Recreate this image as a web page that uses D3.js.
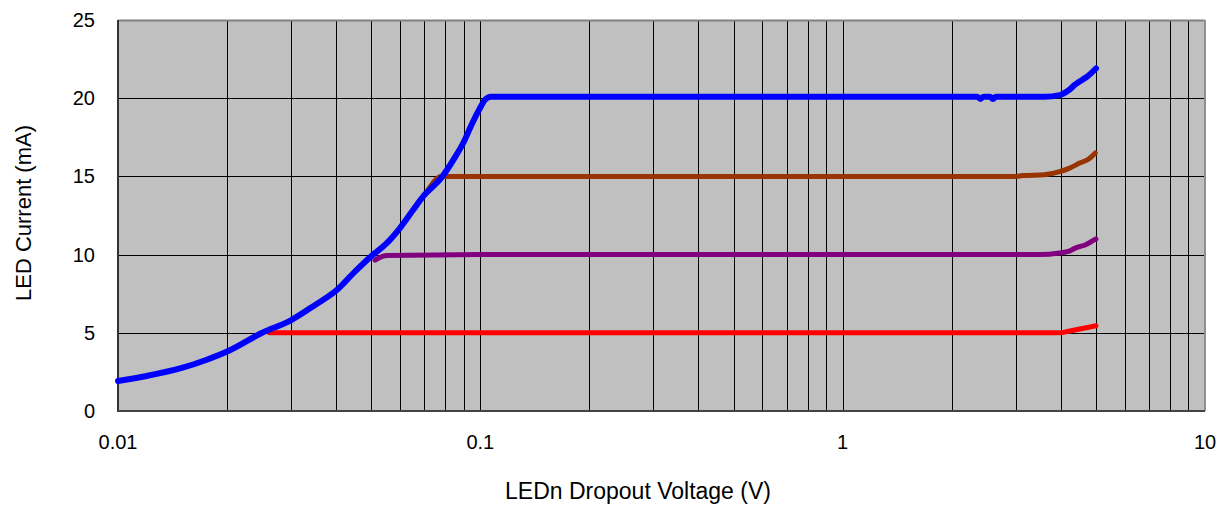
<!DOCTYPE html>
<html>
<head>
<meta charset="utf-8">
<script src="https://cdn.jsdelivr.net/npm/d3@7"></script>
<style>
  body { margin: 0; background: #fff; }
  svg text { font-family: "Liberation Sans", Arial, sans-serif; fill: #000; }
</style>
</head>
<body>
<svg id="chart"></svg>
<script>
// ---------------- data ----------------
let xTicks = [0.01, 0.1, 1, 10]
let yTicks = [0, 5, 10, 15, 20, 25]

let blueV = [0.01, 0.012, 0.015, 0.0175, 0.02, 0.025, 0.03, 0.035, 0.04, 0.045, 0.05, 0.055, 0.06, 0.065, 0.07, 0.078, 0.085, 0.09, 0.095, 0.1, 0.103, 0.107, 0.2, 0.5, 1, 2, 2.35, 2.4, 2.45, 2.55, 2.6, 2.65, 3.0, 3.6, 3.97, 4.2, 4.37, 4.6, 4.74, 5.0]
let blueI = [1.92, 2.24, 2.75, 3.26, 3.8, 5.0, 5.8, 6.78, 7.7, 8.9, 9.9, 10.7, 11.7, 12.8, 13.8, 14.9, 16.2, 17.2, 18.4, 19.4, 19.9, 20.1, 20.1, 20.1, 20.1, 20.1, 20.1, 19.95, 20.1, 20.1, 19.95, 20.1, 20.1, 20.1, 20.2, 20.5, 20.85, 21.2, 21.4, 21.9]

let brownV = [0.072, 0.078, 0.1, 0.5, 1, 2, 3.0, 3.14, 3.6, 3.97, 4.2, 4.51, 4.8, 4.98]
let brownI = [14.2, 15.0, 15.0, 15.0, 15.0, 15.0, 15.0, 15.05, 15.1, 15.3, 15.5, 15.85, 16.15, 16.5]

let purpleV = [0.0512, 0.0552, 0.1, 0.5, 1, 2, 3.5, 3.97, 4.2, 4.37, 4.7, 5.0]
let purpleI = [9.65, 9.95, 10.0, 10.0, 10.0, 10.0, 10.0, 10.1, 10.2, 10.4, 10.65, 11.0]

let redV = [0.0262, 0.03, 0.1, 0.5, 1, 2, 3.97, 4.2, 4.37, 4.74, 5.0]
let redI = [5.0, 5.0, 5.0, 5.0, 5.0, 5.0, 5.0, 5.1, 5.18, 5.34, 5.45]

let series = [
  {name: 'red', color: '#ff0000', v: redV, i: redI, w: 5},
  {name: 'purple', color: '#800080', v: purpleV, i: purpleI, w: 5},
  {name: 'brown', color: '#993300', v: brownV, i: brownI, w: 5},
  {name: 'blue', color: '#0000ff', v: blueV, i: blueI, w: 6}
]

// ---------------- layout ----------------
let W = 1228, H = 507
let margin = {left: 118, right: 23, top: 20, bottom: 96}
let pw = W - margin.left - margin.right
let ph = H - margin.top - margin.bottom

let svg = d3.select('#chart').attr('width', W).attr('height', H)
let g = svg.append('g').attr('transform', `translate(${margin.left},${margin.top})`)

let x = d3.scaleLog().domain([0.01, 10]).range([0, pw])
let y = d3.scaleLinear().domain([0, 25]).range([ph, 0])

g.append('rect').attr('width', pw).attr('height', ph).attr('fill', '#c0c0c0')

// minor grid (every 1..9 per decade)
let minor = []
for (let d = 0.01; d < 10; d *= 10) {
  for (let k = 2; k <= 9; k++) minor.push(+(d * k).toPrecision(3))
}
minor.push(0.1, 1)

g.append('g').selectAll('line').data(minor).enter()
  .append('line')
  .attr('x1', d => Math.round(x(d)) + 0.5).attr('x2', d => Math.round(x(d)) + 0.5)
  .attr('y1', 0).attr('y2', ph)
  .attr('stroke', '#000').attr('stroke-width', 1)

g.append('g').selectAll('line').data(yTicks.filter(d => d > 0 && d < 25)).enter()
  .append('line')
  .attr('x1', 0).attr('x2', pw)
  .attr('y1', d => Math.round(y(d)) + 0.5).attr('y2', d => Math.round(y(d)) + 0.5)
  .attr('stroke', '#000').attr('stroke-width', 1)

// frame
g.append('line').attr('x1', 0).attr('x2', pw).attr('y1', 0.5).attr('y2', 0.5).attr('stroke', '#808080').attr('stroke-width', 2)
g.append('line').attr('x1', pw).attr('x2', pw).attr('y1', 0).attr('y2', ph).attr('stroke', '#909090').attr('stroke-width', 2)
g.append('line').attr('x1', 0).attr('x2', 0).attr('y1', 0).attr('y2', ph + 1).attr('stroke', '#333').attr('stroke-width', 2)
g.append('line').attr('x1', 0).attr('x2', pw).attr('y1', ph).attr('y2', ph).attr('stroke', '#444').attr('stroke-width', 2)

// curves
let line = d3.line()
  .x(d => x(d[0]))
  .y(d => y(d[1]))
  .curve(d3.curveMonotoneX)

series.forEach(s => {
  let pts = s.v.map((v, k) => [v, s.i[k]])
  g.append('path')
    .attr('d', line(pts))
    .attr('fill', 'none')
    .attr('stroke', s.color)
    .attr('stroke-width', s.w)
    .attr('stroke-linejoin', 'round')
    .attr('stroke-linecap', 'round')
})

// tick labels
g.append('g').selectAll('text').data(yTicks).enter()
  .append('text')
  .attr('x', -23)
  .attr('y', d => y(d))
  .attr('dy', '0.35em')
  .attr('text-anchor', 'end')
  .attr('font-size', '20px')
  .text(d => d)

g.append('g').selectAll('text').data(xTicks).enter()
  .append('text')
  .attr('x', d => x(d))
  .attr('y', ph + 38)
  .attr('text-anchor', 'middle')
  .attr('font-size', '20px')
  .text(d => d)

// axis titles
svg.append('text')
  .attr('x', 638).attr('y', 499)
  .attr('text-anchor', 'middle')
  .attr('font-size', '23px')
  .text('LEDn Dropout Voltage (V)')

svg.append('text')
  .attr('transform', `translate(31,213) rotate(-90)`)
  .attr('text-anchor', 'middle')
  .attr('font-size', '22px')
  .text('LED Current (mA)')
</script>
</body>
</html>
